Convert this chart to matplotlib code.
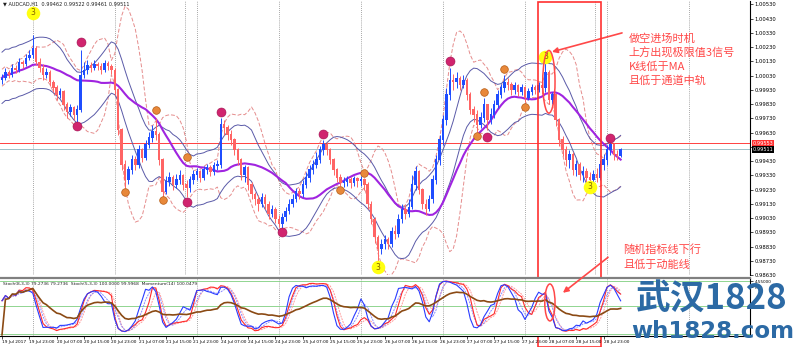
import numpy as np
import pandas as pd
import matplotlib
matplotlib.use("Agg")
import matplotlib.pyplot as plt
from matplotlib.patches import Rectangle, Ellipse, ConnectionPatch
from matplotlib.transforms import blended_transform_factory

plt.rcParams['font.family'] = ['DejaVu Sans', 'Noto Sans CJK SC']

# AUDCAD H1 candles
first_open = 1.00000
closes = [
    1.00014, 1.00056, 1.00035, 1.00084, 1.00070, 1.00126, 1.00112, 1.00154, 1.00175, 1.00224,
    1.00126, 1.00084, 1.00035, 1.00056, 0.99986, 0.99944, 0.99895, 0.99916, 0.99825, 0.99776,
    0.99804, 0.99755, 0.99790, 1.00035, 1.00070, 1.00105, 1.00084, 1.00112, 1.00098, 1.00070,
    1.00119, 1.00098, 1.00070, 0.99930, 0.99650, 0.99405, 0.99300, 0.99370, 0.99440, 0.99405,
    0.99510, 0.99454, 0.99545, 0.99594, 0.99636, 0.99615, 0.99440, 0.99216, 0.99286, 0.99314,
    0.99265, 0.99300, 0.99328, 0.99265, 0.99244, 0.99300, 0.99335, 0.99356, 0.99314, 0.99370,
    0.99384, 0.99356, 0.99398, 0.99405, 0.99685, 0.99664, 0.99615, 0.99580, 0.99510, 0.99440,
    0.99335, 0.99384, 0.99265, 0.99195, 0.99160, 0.99125, 0.99174, 0.99125, 0.99055, 0.99090,
    0.99020, 0.98985, 0.99034, 0.99076, 0.99125, 0.99160, 0.99216, 0.99195, 0.99265, 0.99314,
    0.99370, 0.99405, 0.99440, 0.99510, 0.99545, 0.99510, 0.99440, 0.99370, 0.99314, 0.99279,
    0.99286, 0.99300, 0.99279, 0.99307, 0.99293, 0.99300, 0.99265, 0.99125, 0.99020, 0.98894,
    0.98810, 0.98845, 0.98880, 0.98845, 0.98936, 0.98915, 0.99020, 0.99090, 0.99055, 0.99104,
    0.99265, 0.99356, 0.99230, 0.99125, 0.99090, 0.99160, 0.99300, 0.99440, 0.99580, 0.99720,
    0.99895, 1.00000, 0.99986, 1.00014, 0.99965, 1.00000, 0.99895, 0.99790, 0.99755, 0.99685,
    0.99734, 0.99825, 0.99720, 0.99755, 0.99825, 0.99895, 0.99944, 0.99986, 0.99965, 0.99930,
    0.99958, 0.99916, 0.99944, 0.99874, 0.99916, 0.99944, 0.99930, 0.99958, 0.99944, 1.00056,
    0.99860, 0.99895, 0.99720, 0.99580, 0.99510, 0.99440, 0.99475, 0.99370, 0.99405, 0.99335,
    0.99356, 0.99314, 0.99300, 0.99335, 0.99314, 0.99405, 0.99440, 0.99510, 0.99545, 0.99475,
    0.99462, 0.99511]
highs = [
    1.00042, 1.00084, 1.00070, 1.00112, 1.00105, 1.00154, 1.00140, 1.00182, 1.00210, 1.00315,
    1.00238, 1.00154, 1.00112, 1.00084, 1.00070, 1.00000, 0.99965, 0.99944, 0.99930, 0.99846,
    0.99832, 0.99818, 0.99825, 1.00210, 1.00126, 1.00140, 1.00126, 1.00140, 1.00126, 1.00119,
    1.00140, 1.00133, 1.00112, 1.00084, 0.99944, 0.99664, 0.99440, 0.99398, 0.99475, 0.99468,
    0.99545, 0.99524, 0.99580, 0.99636, 0.99685, 0.99734, 0.99636, 0.99454, 0.99328, 0.99356,
    0.99335, 0.99342, 0.99370, 0.99342, 0.99300, 0.99328, 0.99370, 0.99384, 0.99370, 0.99398,
    0.99412, 0.99405, 0.99426, 0.99440, 0.99734, 0.99720, 0.99685, 0.99650, 0.99594, 0.99524,
    0.99454, 0.99405, 0.99398, 0.99286, 0.99216, 0.99188, 0.99202, 0.99195, 0.99146, 0.99118,
    0.99104, 0.99048, 0.99062, 0.99104, 0.99160, 0.99195, 0.99244, 0.99244, 0.99300, 0.99356,
    0.99405, 0.99440, 0.99496, 0.99538, 0.99580, 0.99566, 0.99524, 0.99454, 0.99384, 0.99342,
    0.99321, 0.99328, 0.99321, 0.99328, 0.99321, 0.99328, 0.99314, 0.99286, 0.99146, 0.99034,
    0.98908, 0.98880, 0.98908, 0.98894, 0.98964, 0.98978, 0.99055, 0.99125, 0.99118, 0.99160,
    0.99335, 0.99398, 0.99370, 0.99244, 0.99160, 0.99188, 0.99335, 0.99475, 0.99615, 0.99755,
    0.99944, 1.00084, 1.00042, 1.00056, 1.00028, 1.00035, 1.00014, 0.99916, 0.99818, 0.99790,
    0.99776, 0.99874, 0.99832, 0.99804, 0.99860, 0.99930, 0.99972, 1.00035, 1.00014, 0.99986,
    0.99986, 0.99972, 0.99972, 0.99958, 0.99944, 0.99972, 0.99965, 0.99986, 0.99986, 1.00126,
    1.00070, 0.99916, 0.99902, 0.99734, 0.99608, 0.99538, 0.99510, 0.99496, 0.99440, 0.99426,
    0.99398, 0.99384, 0.99356, 0.99370, 0.99384, 0.99440, 0.99482, 0.99545, 0.99566, 0.99559,
    0.99510, 0.99522]
lows = [
    0.99972, 1.00000, 1.00014, 1.00021, 1.00049, 1.00056, 1.00084, 1.00098, 1.00140, 1.00154,
    1.00105, 1.00056, 1.00000, 1.00014, 0.99958, 0.99916, 0.99860, 0.99874, 0.99790, 0.99734,
    0.99748, 0.99720, 0.99706, 0.99776, 1.00014, 1.00042, 1.00056, 1.00070, 1.00070, 1.00042,
    1.00056, 1.00070, 1.00042, 0.99895, 0.99615, 0.99370, 0.99244, 0.99272, 0.99342, 0.99370,
    0.99384, 0.99426, 0.99440, 0.99524, 0.99566, 0.99580, 0.99405, 0.99174, 0.99195, 0.99258,
    0.99230, 0.99244, 0.99272, 0.99230, 0.99174, 0.99216, 0.99272, 0.99300, 0.99286, 0.99300,
    0.99342, 0.99328, 0.99335, 0.99370, 0.99384, 0.99615, 0.99580, 0.99545, 0.99475, 0.99405,
    0.99300, 0.99286, 0.99230, 0.99160, 0.99118, 0.99076, 0.99104, 0.99090, 0.99020, 0.99034,
    0.98992, 0.98964, 0.98950, 0.99006, 0.99055, 0.99104, 0.99139, 0.99160, 0.99174, 0.99244,
    0.99286, 0.99342, 0.99384, 0.99419, 0.99475, 0.99475, 0.99412, 0.99335, 0.99286, 0.99258,
    0.99251, 0.99258, 0.99244, 0.99258, 0.99251, 0.99258, 0.99230, 0.99090, 0.98985, 0.98852,
    0.98726, 0.98775, 0.98810, 0.98810, 0.98824, 0.98880, 0.98894, 0.98992, 0.99020, 0.99034,
    0.99090, 0.99230, 0.99195, 0.99090, 0.99048, 0.99076, 0.99132, 0.99272, 0.99405, 0.99545,
    0.99685, 0.99860, 0.99930, 0.99944, 0.99930, 0.99944, 0.99860, 0.99762, 0.99706, 0.99636,
    0.99664, 0.99706, 0.99650, 0.99692, 0.99734, 0.99804, 0.99874, 0.99916, 0.99930, 0.99895,
    0.99902, 0.99888, 0.99895, 0.99846, 0.99860, 0.99895, 0.99902, 0.99916, 0.99902, 0.99916,
    0.99832, 0.99832, 0.99678, 0.99538, 0.99468, 0.99398, 0.99384, 0.99335, 0.99328, 0.99300,
    0.99286, 0.99279, 0.99258, 0.99272, 0.99286, 0.99300, 0.99370, 0.99405, 0.99475, 0.99440,
    0.99440, 0.99461]

# signal dots drawn by the indicator (bar index, price)
yellow_bars = [9, 110, 159, 172]
yellow_prices = [1.00469, 0.98684, 1.00161, 0.99251]
pink_bars = [22, 23, 54, 64, 82, 94, 131, 142, 178]
pink_prices = [0.99678, 1.00266, 0.99139, 0.99776, 0.98929, 0.99622, 1.00133, 0.99601, 0.99594]
orange_bars = [36, 45, 47, 54, 99, 106, 139, 141, 147, 153]
orange_prices = [0.99216, 0.99790, 0.99153, 0.99461, 0.99230, 0.99349, 0.99608, 0.99916, 1.00077, 0.99811]

red_line = 0.99553
note1 = ["做空进场时机", "上方出现极限值3信号", "K线低于MA", "且低于通道中轨"]
note2 = ["随机指标线下行", "且低于动能线"]

closes = np.array(closes)
highs = np.array(highs)
lows = np.array(lows)
opens = np.r_[first_open, closes[:-1]]
idx = np.arange(len(closes))

# bar times, no weekend bars
hours = pd.date_range("2017-07-19 15:00", periods=400, freq="h")
times = hours[hours.dayofweek < 5][:220]

fig = plt.figure(figsize=(7.98, 3.47), dpi=100)
ax = fig.add_axes([0, 72 / 347, 750 / 798, 274 / 347])
ax2 = fig.add_axes([0, 11 / 347, 750 / 798, 58 / 347])
xmin, xmax = -2 / 3.418, 748 / 3.418
for a in (ax, ax2):
    a.set_xlim(xmin, xmax)
    for s in ('left', 'top', 'bottom'):
        a.spines[s].set_visible(False)
    a.spines['right'].set_linewidth(0.8)
ax2.spines['bottom'].set_visible(True)
ax2.spines['bottom'].set_linewidth(0.8)
ax2.spines['top'].set_visible(True)
ax2.spines['top'].set_color('#808080')
ax2.spines['top'].set_linewidth(1.6)
ax.set_ylim(0.98635, 1.00553)

# day grid
day_bars = np.where(times.hour == 0)[0]
for a in (ax, ax2):
    for b in day_bars:
        a.axvline(b, color='#8a8a8a', lw=0.6, ls=(0, (1, 1.5)), zorder=0)
for b in (53.5, 173.5):
    ax.axvline(b, color='#8a8a8a', lw=0.6, ls=(0, (1, 1.5)), zorder=0)

# price lines
ax.axhline(red_line, color='#ff4040', lw=0.7, zorder=1)
ax.axhline(closes[-1], color='#9cc0c8', lw=0.7, zorder=1)

# indicators: MA(20), envelope around MA(10), Bollinger(10, 2)
c = pd.Series(closes)
ma = c.rolling(20, min_periods=1).mean()
m10 = c.rolling(10, min_periods=1).mean()
s10 = c.rolling(10, min_periods=2).std().bfill()
env = 0.0018
ax.plot(idx, m10 + 2 * s10, color='#e58c8c', lw=0.7, dashes=(4, 2), zorder=2)
ax.plot(idx, m10 - 2 * s10, color='#e58c8c', lw=0.7, dashes=(4, 2), zorder=2)
ax.plot(idx, m10 + env, color='#5a5aa8', lw=0.7, zorder=2)
ax.plot(idx, m10 - env, color='#5a5aa8', lw=0.7, zorder=2)
ax.plot(idx, ma, color='#a024e0', lw=1.5, zorder=3)

# candles
up = closes >= opens
cols = np.where(up, '#1f4dff', '#ff6464')
ax.vlines(idx, lows, highs, colors=cols, lw=0.7, zorder=4)
ax.bar(idx, np.abs(closes - opens) + 0.00002, bottom=np.minimum(opens, closes),
       width=0.72, color=cols, lw=0, zorder=4)

# signal dots
ax.scatter(orange_bars, orange_prices, s=30, color='#e8883a', edgecolors='#b55a12', lw=0.5, zorder=6)
ax.scatter(pink_bars, pink_prices, s=42, color='#d0246e', edgecolors='#a01050', lw=0.4, zorder=6)
ax.scatter(yellow_bars, yellow_prices, s=95, color='#ffff10', lw=0, zorder=6)
for b, p in zip(yellow_bars, yellow_prices):
    ax.text(b, p, "3", fontsize=5.5, color='#806000', ha='center', va='center', zorder=7)

# title and price scale
ax.text(0.004, 0.998, "▼ " + "AUDCAD,H1  0.99462 0.99522 0.99461 0.99511",
        transform=ax.transAxes, fontsize=3.6, va='top', color='#202020')
ax.yaxis.tick_right()
price_ticks = np.arange(0.9863, 1.0054, 0.001)
ax.set_yticks(price_ticks)
# the tick hidden under the price boxes is left blank
ax.set_yticklabels(["" if abs(v - red_line) < 0.0004 else f"{v:.5f}" for v in price_ticks])
ax.tick_params(axis='y', labelsize=3.8, length=2, width=0.5, pad=1.5)
ax.set_xticks([])
tr = blended_transform_factory(ax.transAxes, ax.transData)
ax.text(1.003, red_line, "0.99553", transform=tr, fontsize=3.6, color='white', va='center',
        bbox=dict(boxstyle='square,pad=0.12', fc='#ff3030', ec='none'), zorder=8)
ax.text(1.003, closes[-1], "0.99511", transform=tr, fontsize=3.6, color='white', va='center',
        bbox=dict(boxstyle='square,pad=0.12', fc='black', ec='none'), zorder=8)

# stochastic panel
h = pd.Series(highs)
l = pd.Series(lows)


def stoch(k, slow, d):
    ll = l.rolling(k, min_periods=1).min()
    hh = h.rolling(k, min_periods=1).max()
    kk = ((c - ll).rolling(slow, min_periods=1).sum() / (hh - ll).rolling(slow, min_periods=1).sum()) * 100
    return kk, kk.rolling(d, min_periods=1).mean()


k5, d5 = stoch(5, 3, 3)
k8, d8 = stoch(8, 3, 3)
delta = c.diff().fillna(0)
gain = delta.clip(lower=0).ewm(alpha=1 / 14).mean()
loss = (-delta.clip(upper=0)).ewm(alpha=1 / 14).mean()
rsi = 100 - 100 / (1 + gain / loss.replace(0, 1e-9))
rsi = rsi.ewm(span=4).mean()

ax2.set_ylim(-2, 100)
for lev in (95, 50, 2):
    ax2.axhline(lev, color='#7fcf7f', lw=0.6, zorder=0)
ax2.plot(idx, d8, color='#ff9a9a', lw=0.7, ls=(0, (2, 1)))
ax2.plot(idx, d5, color='#8a8aff', lw=0.7, ls=(0, (2, 1)))
ax2.plot(idx, k8, color='#ff2a2a', lw=0.8)
ax2.plot(idx, k5, color='#2a3cff', lw=0.8)
ax2.plot(idx, rsi, color='#8b4a14', lw=1.2)
ax2.text(0.004, 0.93, "Stoch(8,3,3) 79.2736 79.2736  Stoch(5,3,3) 100.0000 99.9968  Momentum(14) 100.0479",
         transform=ax2.transAxes, fontsize=3.2, va='top', color='#202020')
ax2.yaxis.tick_right()
ax2.set_yticks([94, 84])
ax2.set_yticklabels(["4.55000", "MT"])
ax2.tick_params(axis='y', labelsize=3.0, length=2, width=0.5, pad=1.5)

lab_bars = np.arange(0, len(closes), 8)
labs = [times[i].strftime("%d %b %H:%M") for i in lab_bars]
labs[0] = times[0].strftime("%d %b %Y")
ax2.set_xticks(lab_bars)
ax2.set_xticklabels(labs, ha='left')
ax2.tick_params(axis='x', labelsize=3.1, length=2, width=0.5, pad=1)

# annotations
red = '#ff4848'
tf = blended_transform_factory(ax.transData, fig.transFigure)
ax.add_patch(Rectangle((156.8, 0.0), 18.4, 0.994, transform=tf, fill=False, ec='#ff3030',
                       lw=1.2, clip_on=False, zorder=9))
ax.add_patch(Ellipse((160.0, 0.99986), 3.6, 0.0044, fill=False, ec=red, lw=1.1, zorder=9))
ax.annotate("", xy=(160.9, 1.00196), xytext=(181.4, 1.00329),
            arrowprops=dict(arrowstyle='-|>', color=red, lw=1.2, mutation_scale=8, shrinkA=0, shrinkB=0))
for i, s in enumerate(note1):
    ax.text(183.4, 1.00287 - i * 0.00098, s, fontsize=8, color=red, va='center',
            family=['Noto Sans CJK SC', 'DejaVu Sans'])
for i, s in enumerate(note2):
    ax.text(181.7, 0.98810 - i * 0.00105, s, fontsize=8, color=red, va='center',
            family=['Noto Sans CJK SC', 'DejaVu Sans'])
ax2.add_patch(Ellipse((160.3, 57), 3.0, 65, fill=False, ec=red, lw=1.1, zorder=9, clip_on=False))
con = ConnectionPatch(xyA=(177.3, 0.98754), coordsA=ax.transData, xyB=(164.1, 74), coordsB=ax2.transData,
                      arrowstyle='-|>', color=red, lw=1.2, mutation_scale=8, zorder=9)
fig.add_artist(con)

# watermark
fig.text(712 / 798, 1 - 299 / 347, "武汉1828", ha='center', va='center', fontsize=25,
         fontweight='bold', color='#2c6aa5', family=['Noto Sans CJK SC', 'DejaVu Sans'])
fig.text(713 / 798, 1 - 332 / 347, "wh1828.com", ha='center', va='center', fontsize=16.5,
         fontweight='bold', color='#2c6aa5')

fig.savefig("out.png", dpi=100)
